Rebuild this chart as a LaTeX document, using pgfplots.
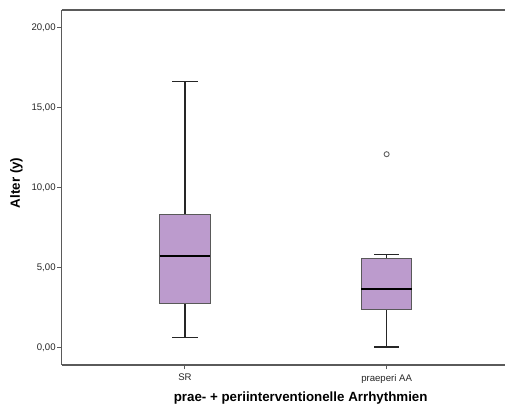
\documentclass[border=0pt]{standalone}
\usepackage{pgfplots}
\pgfplotsset{compat=1.18}
\usepgfplotslibrary{statistics}
\usepackage{fontspec}
\setmainfont{Liberation Sans}
\definecolor{boxfill}{RGB}{188,155,205}
\definecolor{framec}{RGB}{90,90,90}
\begin{document}
\begin{tikzpicture}
\begin{axis}[
  at={(0,0)}, anchor=south west,
  scale only axis,
  width=332.5pt, height=266.25pt,
  xmin=0.389, xmax=2.587,
  ymin=-1.08, ymax=21.1,
  axis x line=box, axis y line=left,
  axis line style={-, draw=framec, line width=0.9pt},
  xtick pos=bottom, ytick pos=left,
  tick align=outside,
  major tick length=3.4pt,
  tick style={draw=framec, line width=0.7pt},
  xtick={1,2}, xticklabels={SR, praeperi AA},
  ytick={0,5,10,15,20},
  /pgf/number format/assume math mode=true,
  yticklabel={\pgfmathprintnumber[fixed,fixed zerofill,precision=2,use comma]{\tick}},
  ticklabel style={font=\fontsize{7.2}{8}\selectfont, text=black!85},
  y tick label style={inner sep=1pt},
  xlabel={prae- + periinterventionelle Arrhythmien},
  label style={font=\fontsize{10}{12}\selectfont\bfseries},
  xlabel style={at={(rel axis cs:0.539,0)}, anchor=center, yshift=-24.75pt},
  clip=false,
  boxplot/draw direction=y,
  boxplot/every box/.style={draw=black!65, line width=0.8pt, fill=boxfill},
  boxplot/every median/.style={black, line width=1.6pt},
  boxplot/every whisker/.style={black!85, line width=0.9pt},
]
\addplot+[mark=none, black, boxplot prepared={draw position=1,
  lower whisker=0.63, lower quartile=2.77, median=5.73,
  upper quartile=8.34, upper whisker=16.63,
  box extend=0.25, whisker extend=0.125}] coordinates {};
\addplot+[mark=none, black, boxplot prepared={draw position=2,
  lower whisker=0.04, lower quartile=2.36, median=3.69,
  upper quartile=5.59, upper whisker=5.84,
  box extend=0.25, whisker extend=0.125}] coordinates {};
\addplot[only marks, mark=o, mark size=1.9pt, draw=black!60, line width=0.7pt] coordinates {(2,12.09)};
\end{axis}
\node[rotate=90, anchor=center, font=\fontsize{10}{12}\selectfont\bfseries] at (-33.9pt,136.6pt) {Alter (y)};
\pgfresetboundingbox
\useasboundingbox (-46.3pt,-33.75pt) rectangle (332.5pt,273.75pt);
\end{tikzpicture}
\end{document}
